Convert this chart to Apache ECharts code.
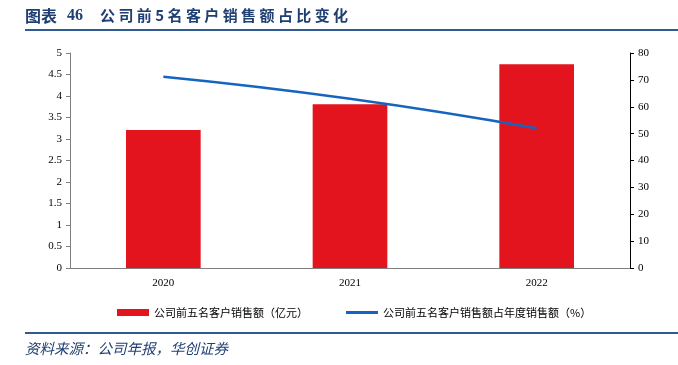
<!DOCTYPE html>
<html><head><meta charset="utf-8">
<script src="https://cdn.jsdelivr.net/npm/echarts@6/dist/echarts.min.js"></script>
<style>html,body{margin:0;padding:0;background:#fff}#c{width:678px;height:365px}</style>
</head><body><div id="c"></div>
<script>
const categories = ['2020', '2021', '2022'];
const salesTop5 = [3.21, 3.81, 4.74];
const shareTop5 = [71.2, 63.0, 52.0];
const leftTicks = [0, 0.5, 1, 1.5, 2, 2.5, 3, 3.5, 4, 4.5, 5];
const rightTicks = [0, 10, 20, 30, 40, 50, 60, 70, 80];

const chart = echarts.init(document.getElementById('c'), null, {renderer: 'canvas'});
const serif = '"Liberation Serif","Times New Roman",serif';
const cjk = '"Noto Sans CJK SC",sans-serif';
chart.setOption({
  animation: false,
  graphic: [
    {type: 'text', left: 25, top: 8, style: {text: '图表', font: 'bold 16px "Noto Sans CJK SC"', fill: '#1f3f73'}},
    {type: 'text', left: 67, top: 8, style: {text: '46', font: 'bold 16px "Liberation Serif"', fill: '#1f3f73'}},
    {type: 'text', left: 100, top: 8, style: {text: '公 司 前 5 名 客 户 销 售 额 占 比 变 化', font: 'bold 15px "Noto Sans CJK SC"', fill: '#1f3f73'}},
    {type: 'rect', shape: {x: 25, y: 29, width: 653, height: 2}, style: {fill: '#2f5a93'}},
    {type: 'rect', shape: {x: 25, y: 332, width: 653, height: 2}, style: {fill: '#2f5a93'}},
    {type: 'text', left: 25, top: 341, style: {text: '资料来源：公司年报，华创证券', font: 'italic 14.5px "Noto Sans CJK SC"', fill: '#1f3f73'}}
  ],
  legend: {
    top: 302, left: 112, itemGap: 38, itemWidth: 32, itemHeight: 7,
    textStyle: {fontFamily: cjk, fontSize: 11, color: '#000'},
    data: [
      {name: '公司前五名客户销售额（亿元）', icon: 'rect'},
      {name: '公司前五名客户销售额占年度销售额（%）', icon: 'path://M0,0 L32,0 L32,3 L0,3 Z'}
    ]
  },
  grid: {left: 70, right: 48, top: 53, bottom: 97},
  xAxis: {
    type: 'category', data: categories,
    axisLine: {lineStyle: {color: '#808080', width: 1}},
    axisTick: {show: false},
    axisLabel: {fontFamily: serif, fontSize: 11, color: '#000', margin: 10}
  },
  yAxis: [
    {type: 'value', min: 0, max: 5, interval: 0.5, splitLine: {show: false},
     axisLine: {show: true, lineStyle: {color: '#808080'}},
     axisTick: {show: true, length: 4, lineStyle: {color: '#808080'}},
     axisLabel: {fontFamily: serif, fontSize: 11, color: '#000', margin: 8}},
    {type: 'value', min: 0, max: 80, interval: 10, splitLine: {show: false},
     axisLine: {show: true, lineStyle: {color: '#000'}},
     axisTick: {show: true, length: 4, lineStyle: {color: '#000'}},
     axisLabel: {fontFamily: serif, fontSize: 11, color: '#000', margin: 8}}
  ],
  series: [
    {name: '公司前五名客户销售额（亿元）', type: 'bar', data: salesTop5, barWidth: '40%',
     itemStyle: {color: '#e3141e'}},
    {name: '公司前五名客户销售额占年度销售额（%）', type: 'line', yAxisIndex: 1, data: shareTop5,
     smooth: true, symbol: 'none', lineStyle: {color: '#1565c0', width: 2.5}, itemStyle: {color: '#1565c0'}}
  ]
});
</script></body></html>
